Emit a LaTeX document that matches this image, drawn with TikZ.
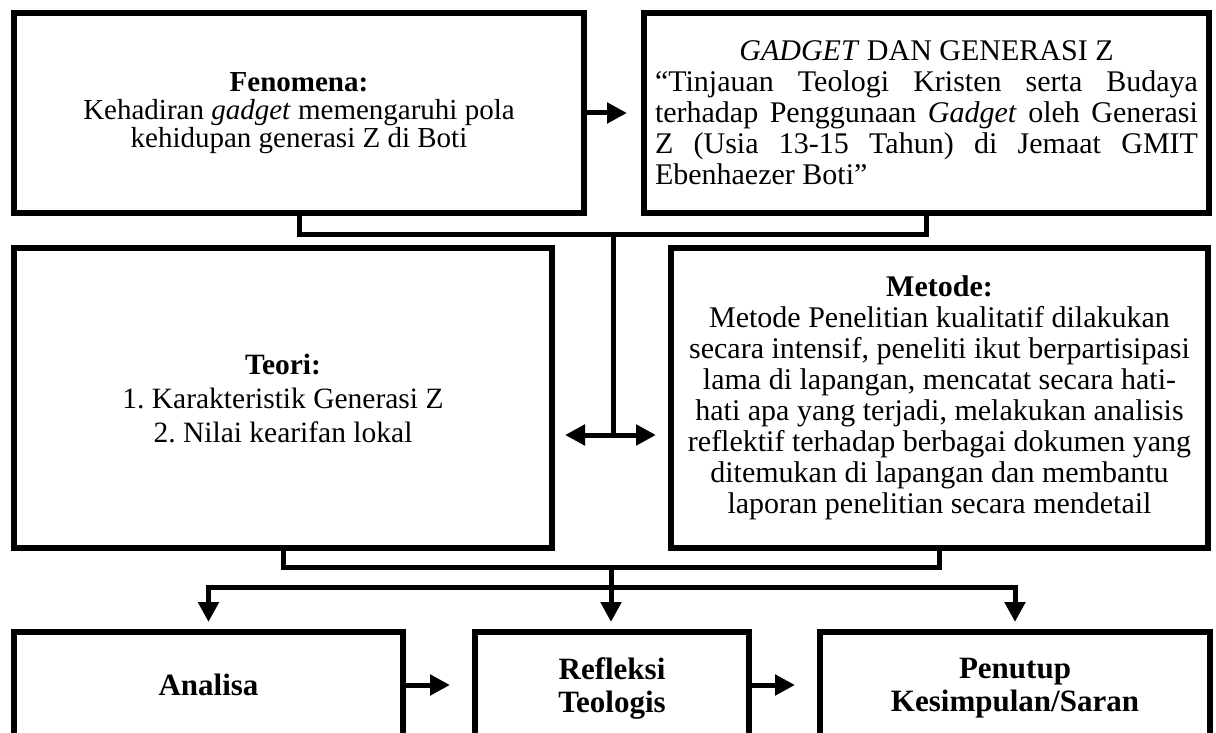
\documentclass[tikz,border=0pt]{standalone}
\usepackage{fontspec}
\setmainfont{Liberation Serif}
\usepackage{tikz}
\usetikzlibrary{arrows.meta,positioning}
\setlength{\parindent}{0pt}
\frenchspacing
\tolerance=10000
\hbadness=10000
\tikzstyle{kotak} = [draw, line width=6pt, anchor=north west, outer sep=0pt,
    inner sep=0pt, align=center]
\tikzstyle{garis} = [line width=5pt]
\tikzstyle{panah} = [line width=5pt, -{Triangle[length=20pt,width=20pt]}]
\tikzstyle{panahdua} = [line width=5pt,
    {Triangle[length=20pt,width=20pt]}-{Triangle[length=20pt,width=20pt]}]

\begin{document}
\begin{tikzpicture}[x=1pt, y=-1pt]
  \clip (0,0) rectangle (1216,733);
  % baris atas
  \node [kotak, minimum width=570pt, minimum height=200pt,
    font=\fontsize{29pt}{28pt}\selectfont] (fenomena) at (14,13)
  {\textbf{Fenomena:}\\Kehadiran \textit{gadget} memengaruhi pola\\kehidupan generasi Z di Boti};
  \node [kotak, minimum width=565pt, minimum height=200pt, text width=543pt, align=justify,
    font=\fontsize{30pt}{31pt}\selectfont,
    right=60pt of fenomena.north east, anchor=north west] (judul)
  {\hfil\textit{GADGET} DAN GENERASI Z\hfil\break
   “Tinjauan Teologi Kristen serta Budaya\linebreak
   terhadap Penggunaan \textit{Gadget} oleh Generasi\linebreak
   Z (Usia 13-15 Tahun) di Jemaat GMIT\linebreak
   Ebenhaezer Boti”};
  % baris tengah
  \node [kotak, minimum width=538pt, minimum height=300pt,
    font=\fontsize{29.5pt}{34pt}\selectfont,
    below=35pt of fenomena.south west, anchor=north west] (teori)
  {\textbf{Teori:}\\1. Karakteristik Generasi Z\\2. Nilai kearifan lokal};
  \node [kotak, minimum width=537pt, minimum height=300pt,
    font=\fontsize{30pt}{31pt}\selectfont,
    right=119pt of teori.north east, anchor=north west] (metode)
  {\textbf{Metode:}\\Metode Penelitian kualitatif dilakukan\\secara intensif, peneliti ikut berpartisipasi\\lama di lapangan, mencatat secara hati-\\hati apa yang terjadi, melakukan analisis\\reflektif terhadap berbagai dokumen yang\\ditemukan di lapangan dan membantu\\laporan penelitian secara mendetail};
  % baris bawah
  \node [kotak, minimum width=389pt, inner ysep=42pt, text depth=120pt,
    font=\fontsize{31pt}{33pt}\selectfont\bfseries,
    below=84pt of teori.south west, anchor=north west] (analisa) {Analisa};
  \node [kotak, minimum width=274pt, inner ysep=26pt, text depth=120pt,
    font=\fontsize{31pt}{33pt}\selectfont\bfseries,
    right=72pt of analisa.north east, anchor=north west] (refleksi) {Refleksi\\Teologis};
  \node [kotak, minimum width=390pt, inner ysep=26pt, text depth=120pt,
    font=\fontsize{31pt}{33pt}\selectfont\bfseries,
    right=71pt of refleksi.north east, anchor=north west] (penutup) {Penutup\\Kesimpulan/Saran};
  % penghubung
  \coordinate (simpul1) at (613,234);
  \coordinate (kiri) at (565,435);
  \coordinate (kanan) at (656,435);
  \coordinate (simpul2) at (611,567);
  \coordinate (bagi) at (611,587);
  \draw [panah, shorten >=17pt] (fenomena.east) -- (judul.west);
  \draw [garis] (fenomena.south) -- ++(0,21) -| (judul.south);
  \draw [garis] (simpul1) -- (simpul1 |- kiri);
  \draw [panahdua] (kiri) -- (kanan);
  \draw [garis] (teori.south) -- ++(0,19) -| (metode.south);
  \draw [garis, line cap=rect] (analisa.north |- bagi) -- (penutup.north |- bagi);
  \draw [panah, shorten >=10pt] (analisa.north |- bagi) -- (analisa.north);
  \draw [panah, shorten >=10pt] (simpul2) -- (simpul2 |- refleksi.north);
  \draw [panah, shorten >=10pt] (penutup.north |- bagi) -- (penutup.north);
  \draw [panah, shorten >=25pt] ([yshift=-53pt]analisa.north east) -- ([yshift=-53pt]refleksi.north west);
  \draw [panah, shorten >=25pt] ([yshift=-53pt]refleksi.north east) -- ([yshift=-53pt]penutup.north west);
\end{tikzpicture}
\end{document}
